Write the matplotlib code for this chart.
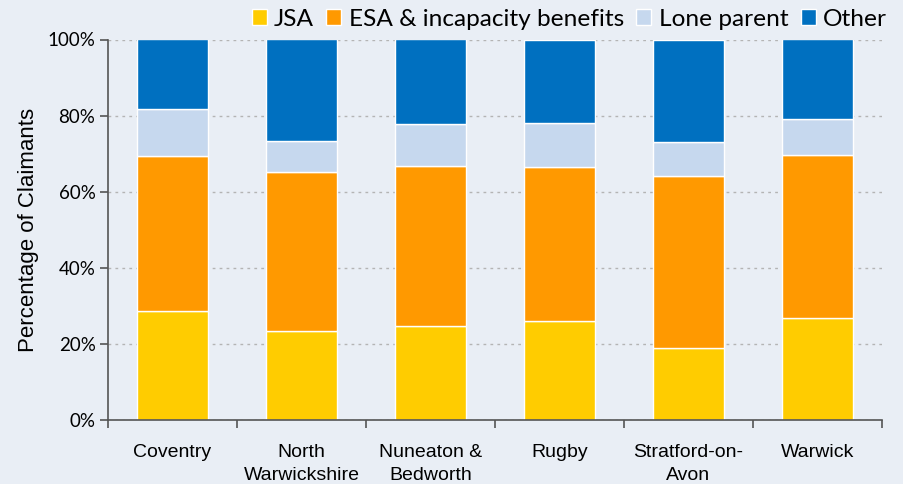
import matplotlib.pyplot as plt
import numpy as np
from matplotlib.ticker import FixedLocator, PercentFormatter

# districts and claimant shares (percent of claimants)
districts = ['Coventry', 'North\nWarwickshire', 'Nuneaton &\nBedworth',
             'Rugby', 'Stratford-on-\nAvon', 'Warwick']
jsa = [28.7, 23.3, 24.7, 26.1, 18.8, 26.7]
esa = [40.6, 41.8, 42.1, 40.4, 45.4, 43.0]
lone_parent = [12.5, 8.2, 11.0, 11.6, 8.9, 9.5]
other = [18.2, 26.7, 22.2, 21.9, 26.9, 20.8]

series_names = ['JSA', 'ESA & incapacity benefits', 'Lone parent', 'Other']
series_colors = ['#FFCC00', '#FF9900', '#C6D8EE', '#0070C0']
bg = '#E9EEF5'


def draw_chart():
    fig = plt.figure(figsize=(9.04, 4.84), dpi=100, facecolor=bg)
    ax = fig.add_axes([108 / 904, 64 / 484, 774 / 904, 380.5 / 484])
    ax.set_facecolor(bg)

    x = np.arange(len(districts))
    bottom = np.zeros(len(districts))
    handles = []
    for vals, name, col in zip([jsa, esa, lone_parent, other], series_names, series_colors):
        b = ax.bar(x, vals, 0.55, bottom=bottom, color=col, edgecolor='white',
                   linewidth=1, label=name, zorder=3)
        handles.append(b)
        bottom += np.array(vals)

    ax.set_xlim(-0.5, len(districts) - 0.5)
    ax.set_ylim(0, 100)
    ax.yaxis.set_major_locator(FixedLocator([0, 20, 40, 60, 80, 100]))
    ax.yaxis.set_major_formatter(PercentFormatter(decimals=0))
    ax.grid(axis='y', color='#B4B4B4', linestyle=(0, (2, 3)), linewidth=1, zorder=0)

    ax.set_xticks(x)
    ax.set_xticklabels(districts, fontfamily='Liberation Sans', fontsize=14,
                       linespacing=1.45)
    ax.set_xticks(np.arange(-0.5, len(districts)), minor=True)
    ax.tick_params(axis='x', which='major', length=0, pad=17.5)
    ax.tick_params(axis='x', which='minor', length=6, width=1.2, color='#555555')
    ax.tick_params(axis='y', length=6, width=1.2, color='#555555', pad=3)
    for lab in ax.get_yticklabels():
        lab.set_fontfamily('Lato')
        lab.set_fontsize(13.5)

    for s in ['top', 'right']:
        ax.spines[s].set_visible(False)
    for s in ['left', 'bottom']:
        ax.spines[s].set_color('#555555')
        ax.spines[s].set_linewidth(1.2)
        ax.spines[s].set_zorder(4)

    ax.set_ylabel('Percentage of Claimants', fontfamily='Liberation Sans',
                  fontsize=16, labelpad=6)

    fig.legend(handles=handles, labels=series_names, loc='center right',
               bbox_to_anchor=(887 / 904, 1 - 19 / 484), ncol=4, frameon=False,
               prop={'family': 'Lato', 'size': 17.6}, handlelength=0.62,
               handleheight=0.62, handletextpad=0.3, columnspacing=0.5,
               borderpad=0, borderaxespad=0)

    fig.savefig('out.png', dpi=100, facecolor=bg)


if __name__ == '__main__':
    draw_chart()
